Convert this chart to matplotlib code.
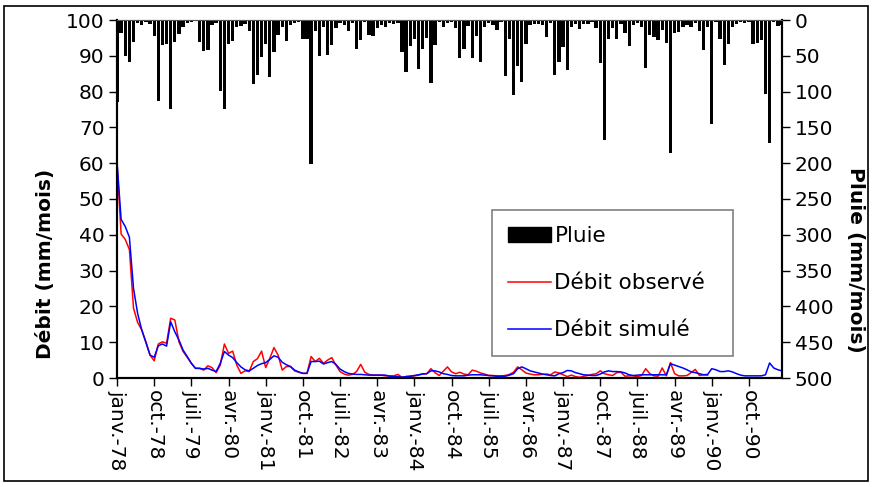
import numpy as np
import matplotlib.pyplot as plt
from matplotlib.patches import Rectangle, Patch
from matplotlib.lines import Line2D

# monthly series, janv. 1978 -> juin 1991
pluie = [115, 18.6, 50, 59, 31, 3.7, 7, 2.3, 5.6, 23,
         113, 35, 33, 124, 31, 19.5, 9.3, 4.7, 2.3, 1.4,
         31, 43, 42, 7, 3.7, 99, 124, 34, 30, 9.3,
         8.4, 5.6, 16, 89, 77, 52, 33, 79, 44, 21,
         9.3, 30, 7, 3.7, 2.3, 27, 27, 201, 16, 50,
         10, 49, 35, 11.6, 4.7, 7, 15, 4.7, 41, 28,
         2.3, 21, 23, 11.6, 7, 10, 3.7, 5.6, 3.7, 44,
         72, 37, 27, 69, 41, 25.6, 87.5, 35, 2.3, 9.3,
         3.7, 2.3, 11.6, 53.5, 40, 8.4, 53.5, 23, 58, 9.3,
         4.7, 7, 14, 2.3, 78, 27, 105, 64, 86, 33,
         7, 5.6, 5.6, 7, 24, 3.7, 77, 58, 38, 70,
         9.3, 5.6, 13, 5.6, 5.6, 2.3, 11.6, 60, 168, 27,
         11.6, 27, 5.6, 18.6, 36, 7, 4.7, 9.3, 67.5, 21,
         24, 28, 14, 32, 186, 18.6, 16.8, 9.3, 7, 9.3,
         4.7, 15, 42, 9.3, 145, 2.3, 27, 63, 33, 9.3,
         5.6, 2.3, 4.7, 2.3, 33.5, 32, 28, 104, 172, 2.3,
         8.4, 7]

debit_observe = [60.1, 40.2, 38.7, 35.9, 19.5, 15.5, 13.4, 10.1, 6.4, 4.8,
                 9.5, 10.1, 9.7, 16.7, 16.2, 10.1, 7.4, 5.8, 4.1, 2.7,
                 2.7, 2.2, 3.4, 2.9, 1.5, 3.6, 9.5, 6.9, 7.5, 3.6,
                 1.3, 2.0, 1.8, 4.6, 5.4, 7.5, 2.9, 5.5, 8.5, 6.4,
                 2.2, 3.2, 3.2, 2.0, 1.6, 1.3, 1.3, 6.0, 4.6, 5.5,
                 4.1, 5.0, 5.7, 3.6, 1.8, 1.1, 0.8, 1.0, 1.8, 3.8,
                 1.6, 1.0, 0.8, 0.8, 0.8, 0.6, 0.6, 0.6, 1.0, 0.2,
                 0.4, 0.5, 0.6, 0.8, 1.2, 1.2, 2.6, 1.5, 0.7, 1.9,
                 3.1, 1.7, 1.2, 1.6, 1.1, 0.9, 2.2, 1.9, 1.4, 1.1,
                 0.7, 0.7, 0.6, 0.6, 0.7, 1.0, 1.6, 3.1, 2.3, 1.4,
                 1.1, 0.9, 0.9, 1.0, 1.1, 0.9, 1.7, 1.4, 0.9, 0.4,
                 0.8, 0.4, 0.2, 0.5, 0.7, 1.0, 1.2, 2.0, 1.2, 0.9,
                 0.7, 1.5, 1.6, 0.5, 0.6, 0.6, 0.4, 0.7, 2.6, 1.2,
                 0.6, 0.5, 2.8, 0.6, 4.3, 1.2, 0.6, 0.6, 0.7, 1.5,
                 2.4, 0.7, 0.9, 0.8]

debit_simule = [60.4, 44.3, 42.3, 39.3, 25.0, 18.0, 13.4, 9.9, 6.4, 5.8,
                9.0, 9.5, 8.9, 15.7, 12.9, 10.6, 7.8, 6.0, 4.1, 2.7,
                2.7, 2.5, 2.7, 2.2, 1.8, 4.1, 7.4, 6.4, 5.7, 4.3,
                3.1, 2.3, 2.0, 2.7, 3.5, 4.0, 4.3, 5.2, 6.2, 5.8,
                4.4, 3.7, 3.2, 2.2, 1.7, 1.3, 1.3, 4.6, 4.6, 4.7,
                3.9, 4.3, 4.6, 3.8, 2.5, 1.8, 1.3, 1.1, 1.0, 1.0,
                0.9, 0.8, 0.8, 0.8, 0.8, 0.8, 0.5, 0.4, 0.4, 0.2,
                0.4, 0.5, 0.7, 0.9, 1.1, 1.2, 2.0, 2.0, 1.7, 1.2,
                1.0, 0.7, 0.6, 0.6, 0.6, 0.8, 0.9, 0.9, 0.9, 0.8,
                0.7, 0.6, 0.5, 0.5, 0.5, 0.8, 1.2, 2.6, 3.1, 2.6,
                2.0, 1.7, 1.4, 1.1, 0.9, 0.7, 0.6, 1.2, 1.5, 2.1,
                2.0, 1.5, 1.2, 0.9, 0.8, 0.7, 0.7, 1.1, 1.7, 2.0,
                1.8, 1.8, 1.7, 1.4, 0.9, 0.7, 0.8, 0.9, 0.9, 0.9,
                0.9, 0.9, 0.9, 0.9, 4.0, 3.6, 3.2, 2.8, 2.3, 1.7,
                1.5, 1.2, 0.9, 1.0, 2.6, 2.3, 1.8, 1.8, 2.0, 1.7,
                1.2, 0.8, 0.6, 0.6, 0.6, 0.6, 0.6, 0.9, 4.2, 2.8,
                2.3, 2.0]

tick_labels = ['janv.-78', 'oct.-78', 'juil.-79', 'avr.-80', 'janv.-81', 'oct.-81',
               'juil.-82', 'avr.-83', 'janv.-84', 'oct.-84', 'juil.-85', 'avr.-86',
               'janv.-87', 'oct.-87', 'juil.-88', 'avr.-89', 'janv.-90', 'oct.-90']

months = np.arange(len(debit_simule))

fig = plt.figure(figsize=(8.72, 4.87), dpi=100)
ax = fig.add_axes([117/872, 1 - 378/487, 665/872, 358/487])
ax2 = ax.twinx()

ax.plot(months[:len(debit_observe)], debit_observe, color='red', lw=1.1)
ax.plot(months, debit_simule, color='blue', lw=1.1)
ax2.bar(months, pluie, width=0.8, color='black')

ax.set_xlim(0, len(months) - 1)
ax.set_ylim(0, 100)
ax2.set_ylim(500, 0)

ax.set_yticks(np.arange(0, 101, 10))
ax2.set_yticks(np.arange(0, 501, 50))
ax.set_xticks(np.arange(0, 9 * len(tick_labels), 9))
ax.set_xticklabels(tick_labels, rotation=-90, ha='center', va='top')

for a in (ax, ax2):
    a.tick_params(axis='both', direction='out', length=6, width=1, labelsize=14.5, pad=3)
    for side in ('left', 'right', 'bottom'):
        a.spines[side].set_linewidth(1.5)
    a.spines['top'].set_color('#555555')
ax.tick_params(axis='x', pad=3)

ax.set_ylabel('Débit (mm/mois)', fontsize=14.5, fontweight='bold')
ax.yaxis.label.set(rotation_mode='default', ha='center', va='center')
ax.yaxis.set_label_coords(-0.108, 0.32)
ax2.set_ylabel('Pluie (mm/mois)', fontsize=14.5, fontweight='bold', rotation=-90)
ax2.yaxis.label.set(rotation_mode='default', ha='center', va='center')
ax2.yaxis.set_label_coords(1.111, 0.33)

handles = [Patch(facecolor='black', edgecolor='black'),
           Line2D([], [], color='red', lw=1.1),
           Line2D([], [], color='blue', lw=1.1)]
leg = ax2.legend(handles, ['Pluie', 'Débit observé', 'Débit simulé'],
                 loc='upper left', bbox_to_anchor=(0.564, 0.064, 0.362, 0.405),
                 mode='expand', fontsize=15.5, fancybox=False, framealpha=1,
                 edgecolor='#808080', borderpad=0.75, labelspacing=1.25,
                 handlelength=2.0, handletextpad=0.15, borderaxespad=0)
leg.get_frame().set_linewidth(1.2)

fig.add_artist(Rectangle((4/872, 6/487), 864/872, 475/487, transform=fig.transFigure,
                         fill=False, edgecolor='black', lw=1.2))

fig.savefig('out.png', dpi=100)
